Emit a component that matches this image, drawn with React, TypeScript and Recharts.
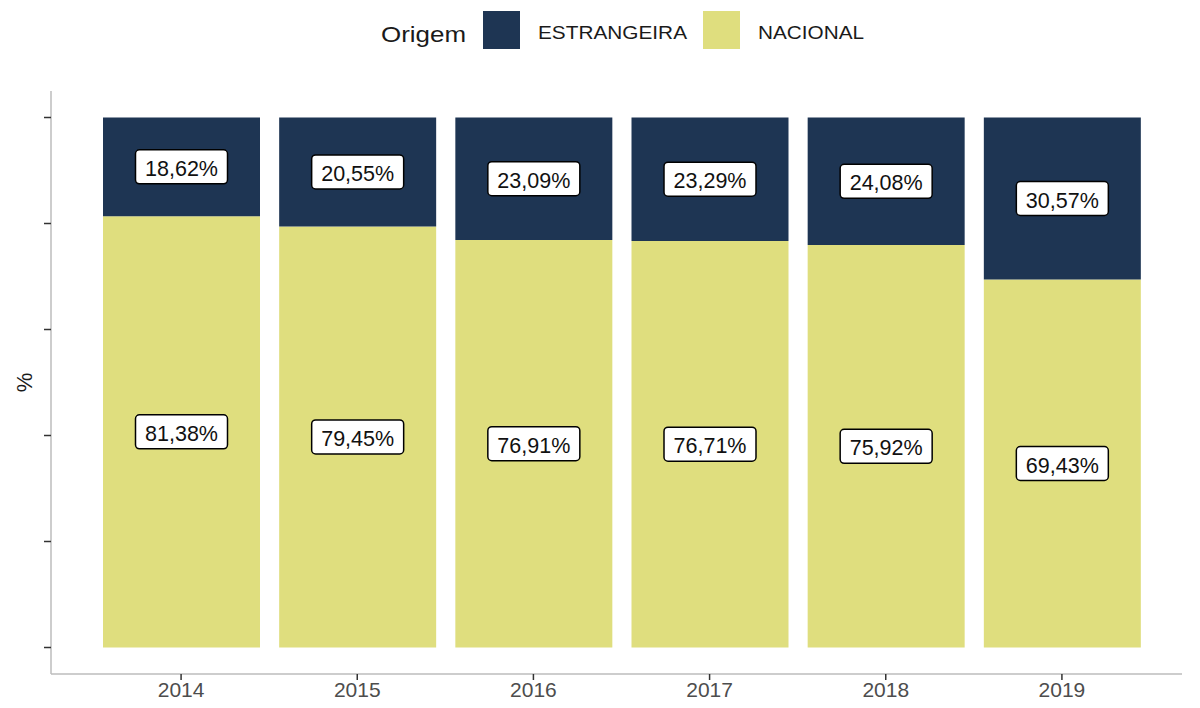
import React from "react";
import { Bar, BarChart, LabelList, Legend, XAxis, YAxis } from "recharts";

const years = ["2014", "2015", "2016", "2017", "2018", "2019"];
const estrangeira = [18.62, 20.55, 23.09, 23.29, 24.08, 30.57];
const nacional = [81.38, 79.45, 76.91, 76.71, 75.92, 69.43];
const yTicks = [0, 20, 40, 60, 80, 100];

const NAVY = "#1E3553";
const YELLOW = "#DFDE7E";
const FONT = "'Liberation Sans', Arial, sans-serif";

const data = years.map((year, i) => ({
  year,
  nacional: nacional[i],
  estrangeira: estrangeira[i],
}));

const fmt = (v: number) => v.toFixed(2).replace(".", ",") + "%";

const BoxLabel = (props: any) => {
  const { x, y, width, height, value } = props;
  const cx = Number(x) + Number(width) / 2;
  const cy = Number(y) + Number(height) / 2;
  return (
    <g>
      <rect
        x={cx - 46}
        y={cy - 17}
        width={92}
        height={34}
        rx={4}
        fill="#fff"
        stroke="#000"
        strokeWidth={1.5}
      />
      <text
        x={cx}
        y={cy + 9}
        textAnchor="middle"
        fontFamily={FONT}
        fontSize={22}
        fill="#111"
        textLength={73}
        lengthAdjust="spacingAndGlyphs"
      >
        {fmt(Number(value))}
      </text>
    </g>
  );
};

// legend: order and placement as in the original (ESTRANGEIRA first)
const legendOrder = ["ESTRANGEIRA", "NACIONAL"];
const legendBoxX = [483, 703];
const legendTextLen = [149, 106];

const renderLegend = (props: any) => {
  const payload: any[] = props.payload || [];
  const items = legendOrder.map((name) => payload.find((p) => p.value === name));
  return (
    <svg width={1200} height={60} style={{ display: "block" }}>
      <text
        x={381}
        y={42}
        fontFamily={FONT}
        fontSize={22}
        fill="#1a1a1a"
        textLength={85}
        lengthAdjust="spacingAndGlyphs"
      >
        Origem
      </text>
      {items.map((it, i) =>
        it ? (
          <g key={it.value}>
            <rect x={legendBoxX[i]} y={11} width={37} height={38} fill={it.color} />
            <text
              x={legendBoxX[i] + 55}
              y={39}
              fontFamily={FONT}
              fontSize={18}
              fill="#1a1a1a"
              textLength={legendTextLen[i]}
              lengthAdjust="spacingAndGlyphs"
            >
              {it.value}
            </text>
          </g>
        ) : null
      )}
    </svg>
  );
};

const YLabel = (props: any) => {
  const vb = props.viewBox || {};
  const cy = vb.y + vb.height / 2;
  return (
    <text
      x={32}
      y={cy}
      transform={`rotate(-90 32 ${cy})`}
      textAnchor="middle"
      fontFamily={FONT}
      fontSize={22}
      fill="#1a1a1a"
    >
      %
    </text>
  );
};

export default function App() {
  return (
    <div style={{ position: "absolute", left: 0, top: 0, width: 1200, height: 708, background: "#fff" }}>
      <BarChart
        width={1200}
        height={708}
        data={data}
        margin={{ top: 31, right: 18, left: 0, bottom: 0 }}
      >
        <Legend
          verticalAlign="top"
          content={renderLegend}
          wrapperStyle={{ top: 0, left: 0, width: 1200, height: 60 }}
        />
        <XAxis
          dataKey="year"
          height={34}
          padding={{ left: 42, right: 32 }}
          axisLine={{ stroke: "#bdbdbd", strokeWidth: 1.5 }}
          tickLine={{ stroke: "#333", strokeWidth: 1.5 }}
          tickSize={6}
          tick={{ fill: "#4d4d4d", fontSize: 21, fontFamily: FONT }}
        />
        <YAxis
          width={51}
          domain={[-5, 105]}
          ticks={yTicks}
          allowDataOverflow
          tickFormatter={() => ""}
          axisLine={{ stroke: "#bdbdbd", strokeWidth: 1.5 }}
          tickLine={{ stroke: "#333", strokeWidth: 1.5 }}
          tickSize={7}
          label={<YLabel />}
        />
        <Bar dataKey="nacional" name="NACIONAL" stackId="a" fill={YELLOW} barSize={157} isAnimationActive={false}>
          <LabelList dataKey="nacional" content={BoxLabel} />
        </Bar>
        <Bar dataKey="estrangeira" name="ESTRANGEIRA" stackId="a" fill={NAVY} barSize={157} isAnimationActive={false}>
          <LabelList dataKey="estrangeira" content={BoxLabel} />
        </Bar>
      </BarChart>
    </div>
  );
}
